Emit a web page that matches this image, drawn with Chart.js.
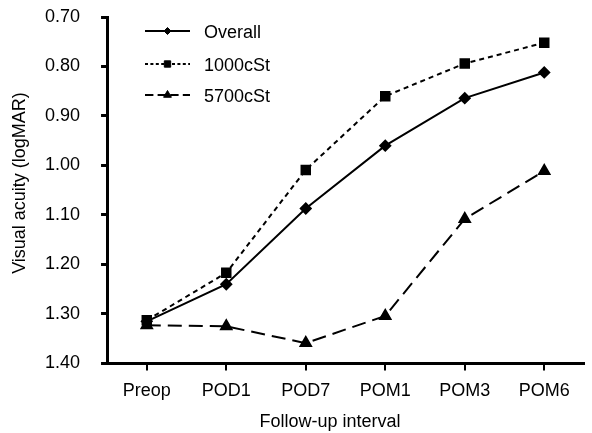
<!DOCTYPE html>
<html><head><meta charset="utf-8">
<script src="https://cdn.jsdelivr.net/npm/chart.js@4/dist/chart.umd.min.js"></script>
<style>html,body{margin:0;padding:0;background:#fff}#wrap{width:592px;height:433px}</style>
</head><body><div id="wrap"><canvas id="c" width="592" height="433"></canvas></div>
<script>
const categories = ["Preop","POD1","POD7","POM1","POM3","POM6"];
const overall = [1.315,1.240,1.087,0.960,0.864,0.812];
const cst1000 = [1.313,1.217,1.009,0.860,0.794,0.752];
const cst5700 = [1.323,1.325,1.359,1.304,1.108,1.011];
const yTicks = [0.70,0.80,0.90,1.00,1.10,1.20,1.30,1.40];
const seriesNames = ["Overall","1000cSt","5700cSt"];
const xTitle = "Follow-up interval";
const yTitle = "Visual acuity (logMAR)";

const FONT = "'Liberation Sans', Arial, sans-serif";

const legendPlugin = {
  id: 'customLegend',
  afterDraw(chart) {
    const ctx = chart.ctx;
    const rows = [31, 64, 95];
    chart.data.datasets.forEach((ds, i) => {
      const y = rows[i];
      ctx.save();
      ctx.strokeStyle = '#000';
      ctx.fillStyle = '#000';
      ctx.lineWidth = 2;
      ctx.setLineDash(ds.borderDash ? ds.borderDash.map(d => d * 0.6) : []);
      ctx.beginPath(); ctx.moveTo(145, y); ctx.lineTo(190, y); ctx.stroke();
      ctx.setLineDash([]);
      ctx.lineWidth = 1;
      Chart.helpers.drawPoint(ctx, {pointStyle: ds.pointStyle, radius: ds.pointRadius - 1.5, borderWidth: 1, rotation: 0}, 167.5, y);
      ctx.font = "18px " + FONT;
      ctx.textBaseline = 'middle';
      ctx.textAlign = 'left';
      ctx.fillText(ds.label, 204, y + 2);
      ctx.restore();
    });
    // axis titles
    ctx.save();
    ctx.fillStyle = '#000';
    ctx.font = "18px " + FONT;
    ctx.textAlign = 'center';
    ctx.textBaseline = 'middle';
    ctx.fillText(xTitle, 330, 422);
    ctx.translate(20, 183);
    ctx.rotate(-Math.PI / 2);
    ctx.fillText(yTitle, 0, 0);
    ctx.restore();
  }
};

new Chart(document.getElementById('c'), {
  type: 'line',
  data: {
    labels: categories,
    datasets: [
      {label: seriesNames[0], data: overall, borderColor:'#000', backgroundColor:'#000', borderWidth:2, pointStyle:'rectRot', pointRadius:5, borderDash:[]},
      {label: seriesNames[1], data: cst1000, borderColor:'#000', backgroundColor:'#000', borderWidth:2, pointStyle:'rect', pointRadius:6, borderDash:[5,4]},
      {label: seriesNames[2], data: cst5700, borderColor:'#000', backgroundColor:'#000', borderWidth:2, pointStyle:'triangle', pointRadius:6, borderDash:[14,7]}
    ]
  },
  options: {
    responsive: false,
    animation: false,
    devicePixelRatio: 1,
    layout: {padding: {top: 17, right: 0, left: 24, bottom: 21}},
    plugins: {legend: {display:false}, tooltip:{enabled:false}},
    scales: {
      x: {
        offset: true,
        grid: {display:true, drawOnChartArea:false, tickLength:7, color:'#000', lineWidth:2, offset:false},
        border: {display:true, color:'#000', width:3},
        ticks: {color:'#000', font:{family:FONT, size:18}, padding:10, maxRotation:0},
        title: {display:false}
      },
      y: {
        reverse: true,
        min: 0.70, max: 1.40,
        afterBuildTicks: (s) => { s.ticks = yTicks.map(v => ({value:v})); },
        afterFit: (s) => { s.paddingTop = 0; s.paddingBottom = 0; },
        grid: {display:true, drawOnChartArea:false, tickLength:6, color:'#000', lineWidth:3},
        border: {display:true, color:'#000', width:3},
        ticks: {color:'#000', font:{family:FONT, size:18}, padding:21, callback: v => Number(v).toFixed(2)},
        title: {display:false}
      }
    }
  },
  plugins: [legendPlugin]
});
</script></body></html>
